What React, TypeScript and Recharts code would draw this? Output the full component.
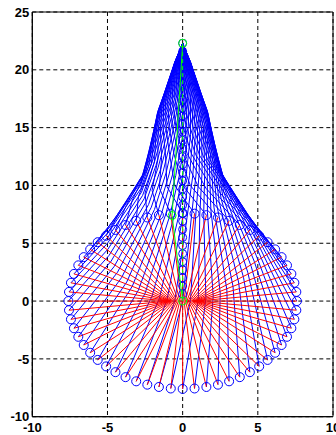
import React from 'react';
import {
  ComposedChart,
  Scatter,
  XAxis,
  YAxis,
  CartesianGrid,
  ReferenceArea
} from 'recharts';

// base ring points (blue circles), counter-clockwise from the bottom
const ringX = [0, 0.79, 1.58, 2.35, 3.09, 3.8, 4.47, 5.09, 5.65, 6.15, 6.58, 6.94, 7.23, 7.43, 7.56, 7.6, 7.56, 7.43, 7.23, 6.94, 6.58, 6.15, 5.65, 5.09, 4.47, 3.8, 3.09, 2.35, 1.58, 0.79, 0, -0.79, -1.58, -2.35, -3.09, -3.8, -4.47, -5.09, -5.65, -6.15, -6.58, -6.94, -7.23, -7.43, -7.56, -7.6, -7.56, -7.43, -7.23, -6.94, -6.58, -6.15, -5.65, -5.09, -4.47, -3.8, -3.09, -2.35, -1.58, -0.79];
const ringY = [-7.6, -7.56, -7.43, -7.23, -6.94, -6.58, -6.15, -5.65, -5.09, -4.47, -3.8, -3.09, -2.35, -1.58, -0.79, 0, 0.79, 1.58, 2.35, 3.09, 3.8, 4.47, 5.09, 5.65, 6.15, 6.58, 6.94, 7.23, 7.43, 7.56, 7.6, 7.56, 7.43, 7.23, 6.94, 6.58, 6.15, 5.65, 5.09, 4.47, 3.8, 3.09, 2.35, 1.58, 0.79, 0, -0.79, -1.58, -2.35, -3.09, -3.8, -4.47, -5.09, -5.65, -6.15, -6.58, -6.94, -7.23, -7.43, -7.56];
const ringRadius = 7.6;

// shape of the blue "drop": centre height, radius and twist (in ring steps) of each level
const levelCenter = [0, 5, 10, 13, 16, 18.5, 20.5, 22.3];
const levelRadius = [7.6, 5.0, 2.8, 2.2, 1.7, 1.05, 0.55, 0];
const levelTwist = [0, 2, 4, 6, 8, 10, 12, 14];

// blue circles along the axis
const axisMarkY = [0.6, 1.3, 2.0, 2.7, 3.4, 4.1, 4.8, 5.5, 6.2, 6.9, 7.6, 8.3, 9.0, 9.7, 10.4, 11.1, 11.8, 12.5, 13.2, 13.9, 14.6, 15.3, 16.0, 16.7, 17.4, 18.1, 18.8, 19.5, 20.2, 20.9, 21.6, 22.3];

// green path
const greenX = [0, -0.7, 0];
const greenY = [0, 7.4, 22.3];
const stemY = [0, 22.3];

const hubSpread = 0.12;

const xTicks = [-10, -5, 0, 5, 10];
const yTicks = [-10, -5, 0, 5, 10, 15, 20, 25];

const BLUE = '#0000ff';
const RED = '#ff0000';
const GREEN = '#00ff00';

const n = ringX.length;
const meridians = ringX.map((_, i) =>
  levelCenter.map((c, j) => {
    const k = (i + levelTwist[j]) % n;
    return {
      x: (ringX[k] * levelRadius[j]) / ringRadius,
      y: c + (ringY[k] * levelRadius[j]) / ringRadius
    };
  })
);

const spokes = ringX.map((rx, i) => [
  { x: rx * hubSpread, y: 0 },
  { x: rx, y: ringY[i] }
]);

const ringPoints = ringX.map((rx, i) => ({ x: rx, y: ringY[i] }));
const axisPoints = axisMarkY.map(y => ({ x: 0, y }));
const greenPoints = greenX.map((gx, i) => ({ x: gx, y: greenY[i] }));
const stemPoints = stemY.map(y => ({ x: 0, y }));

const NoDot = () => <g />;

const ring = (color: string, r: number) => (p: any) => (
  <circle cx={p.cx} cy={p.cy} r={r} fill="none" stroke={color} strokeWidth={1} />
);

const tickStyle = {
  fill: '#000',
  fontSize: 13,
  fontWeight: 'bold',
  fontFamily: '"Liberation Sans", Arial, sans-serif'
};

export default function App() {
  return (
    <div style={{ position: 'absolute', left: 0, top: 0 }}>
      <ComposedChart
        width={336}
        height={435}
        margin={{ top: 12, right: 3, bottom: 0, left: 0 }}
      >
        <CartesianGrid stroke="#000" strokeDasharray="4 3" />
        <XAxis
          type="number"
          dataKey="x"
          domain={[-10, 10]}
          ticks={xTicks}
          interval={0}
          allowDataOverflow
          height={18.3}
          tickSize={0}
          tickMargin={6}
          stroke="#000"
          tick={tickStyle}
        />
        <YAxis
          type="number"
          dataKey="y"
          domain={[-10, 25]}
          ticks={yTicks}
          interval={0}
          allowDataOverflow
          width={32.3}
          tickSize={0}
          tickMargin={3}
          stroke="#000"
          tick={tickStyle}
        />
        {meridians.map((pts, i) => (
          <Scatter
            key={`m-${i}`}
            data={pts}
            line={{ stroke: BLUE, strokeWidth: 1 }}
            shape={NoDot}
            isAnimationActive={false}
          />
        ))}
        {spokes.map((pts, i) => (
          <Scatter
            key={`s-${i}`}
            data={pts}
            line={{ stroke: RED, strokeWidth: 1 }}
            shape={NoDot}
            isAnimationActive={false}
          />
        ))}
        <Scatter data={ringPoints} shape={ring(BLUE, 4.5)} isAnimationActive={false} />
        <Scatter data={axisPoints} shape={ring(BLUE, 4)} isAnimationActive={false} />
        <Scatter
          data={stemPoints}
          line={{ stroke: GREEN, strokeWidth: 1, strokeDasharray: '4 3' }}
          shape={NoDot}
          isAnimationActive={false}
        />
        <Scatter
          data={greenPoints}
          line={{ stroke: GREEN, strokeWidth: 1 }}
          shape={ring(GREEN, 4)}
          isAnimationActive={false}
        />
        <ReferenceArea
          x1={-10}
          x2={10}
          y1={-10}
          y2={25}
          fill="none"
          stroke="#000"
          strokeWidth={1}
          ifOverflow="visible"
        />
      </ComposedChart>
    </div>
  );
}
